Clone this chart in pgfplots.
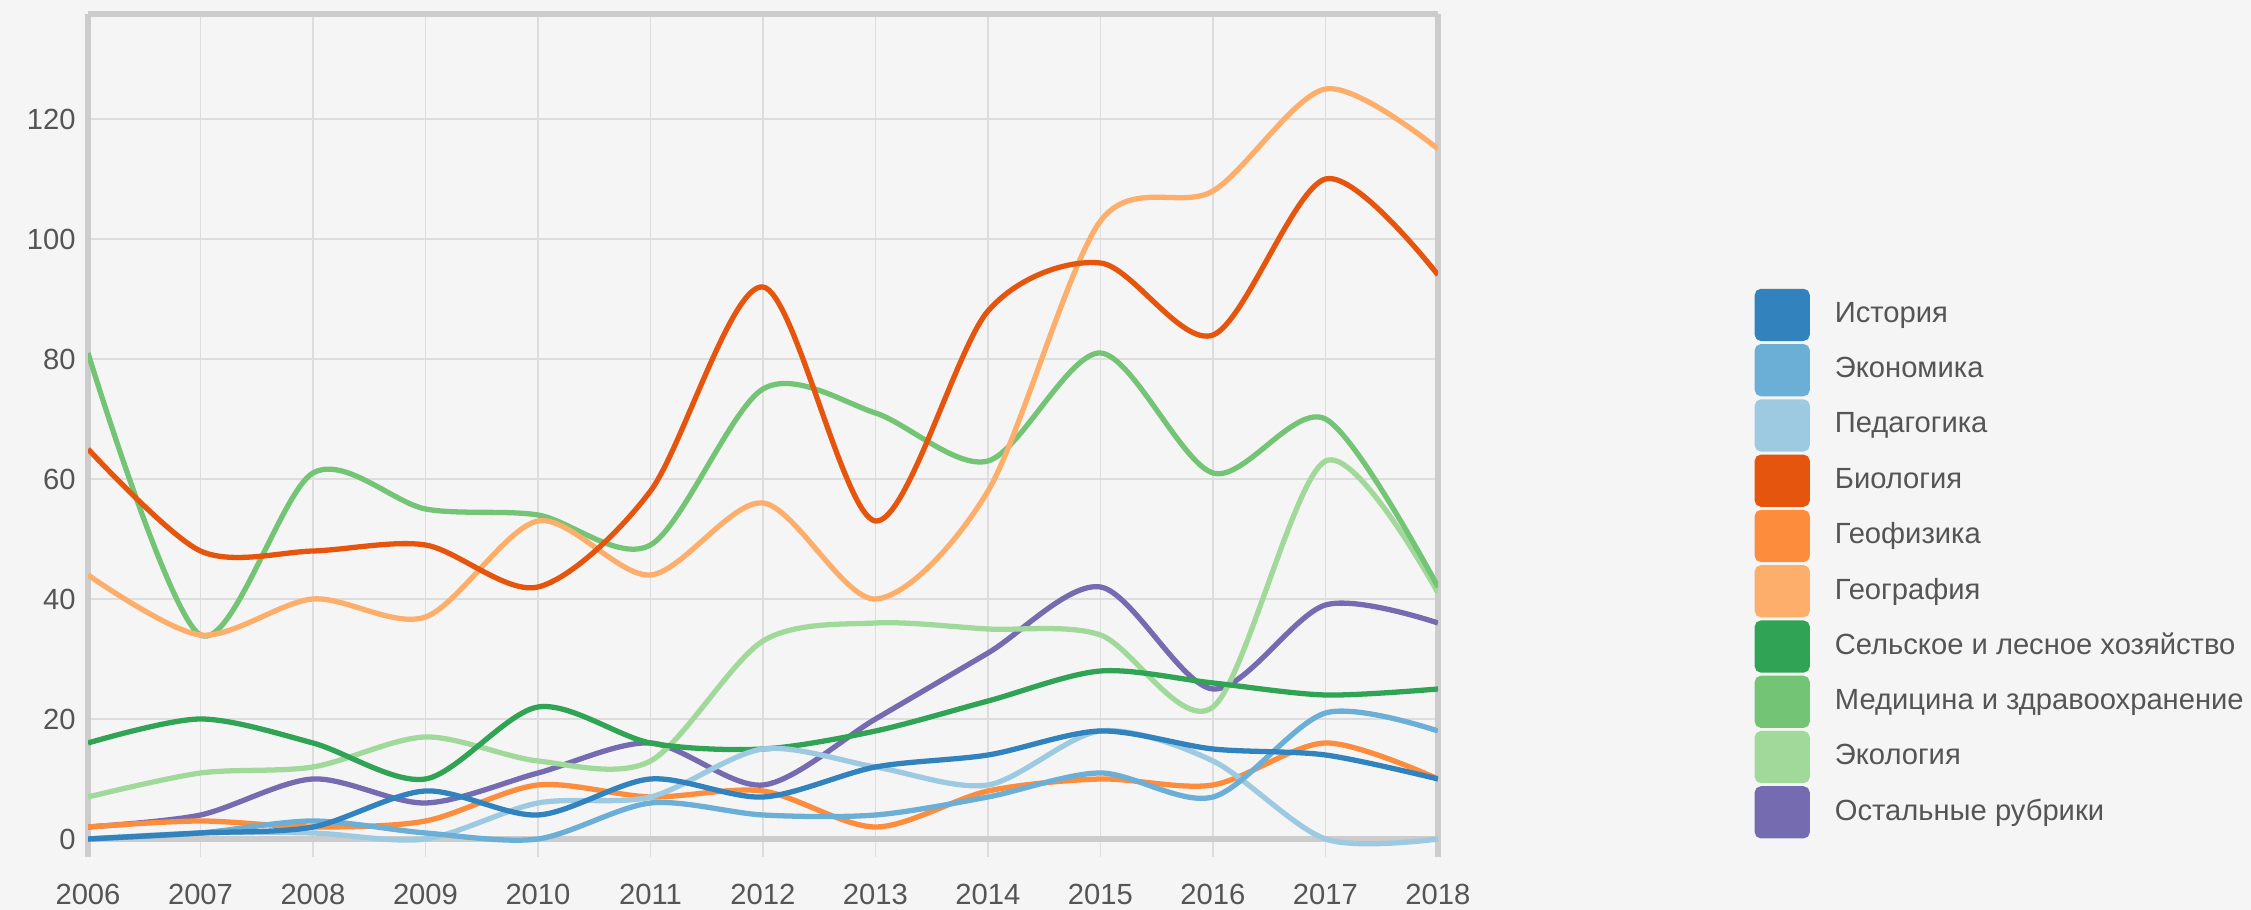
\documentclass[border=0pt]{standalone}
\usepackage{fontspec}
\setmainfont{Liberation Sans}
\usepackage{pgfplots}
\usepackage{pgfplotstable}
\pgfplotsset{compat=1.18}

\definecolor{bg}{HTML}{F5F5F5}
\definecolor{framegray}{HTML}{CCCCCC}
\definecolor{gridgray}{HTML}{DDDDDD}
\definecolor{textgray}{HTML}{555555}
\definecolor{cHist}{HTML}{3182BD}
\definecolor{cEcon}{HTML}{6BAED6}
\definecolor{cPed}{HTML}{9ECAE1}
\definecolor{cBio}{HTML}{E6550D}
\definecolor{cGeoph}{HTML}{FD8D3C}
\definecolor{cGeog}{HTML}{FDAE6B}
\definecolor{cAgri}{HTML}{31A354}
\definecolor{cMed}{HTML}{74C476}
\definecolor{cEco}{HTML}{A1D99B}
\definecolor{cOther}{HTML}{756BB1}

% publications per year and subject
\pgfplotstableread{
year hist econ ped bio geoph geog agri med eco other
2006 0  0  0  65 2  44  16 81 7  2
2007 1  1  1  48 3  34  20 34 11 4
2008 2  3  1  48 2  40  16 61 12 10
2009 8  1  0  49 3  37  10 55 17 6
2010 4  0  6  42 9  53  22 54 13 11
2011 10 6  7  58 7  44  16 49 13 16
2012 7  4  15 92 8  56  15 75 33 9
2013 12 4  12 53 2  40  18 71 36 20
2014 14 7  9  88 8  58  23 63 35 31
2015 18 11 18 96 10 103 28 81 34 42
2016 15 7  13 84 9  108 26 61 22 25
2017 14 21 0  110 16 125 24 70 63 39
2018 10 18 0  94 10 115 25 42 41 36
}\pubs

\begin{document}
\begin{tikzpicture}
\fill[bg] (-8.8mm,-5.3mm) rectangle (216.3mm,85.7mm);
\useasboundingbox (-8.8mm,-5.3mm) rectangle (216.3mm,85.7mm);
\begin{axis}[
  scale only axis,
  width=135mm,
  height=84.3mm,
  xmin=2006, xmax=2018,
  ymin=-3, ymax=137.5,
  xtick={2006,...,2018},
  ytick={20,40,...,120},
  extra y ticks={0,137.5},
  extra y tick labels={0,},
  extra y tick style={major grid style={draw=framegray, line width=1.5pt}},
  grid=major,
  major grid style={draw=gridgray, line width=0.5pt},
  axis x line*=bottom,
  x axis line style={draw=none},
  axis y line*=box,
  y axis line style={draw=framegray, line width=1.5pt},
  major tick length=0pt,
  /pgf/number format/.cd, 1000 sep={}, assume math mode=true, /pgfplots/.cd,
  tick label style={text=textgray, font=\fontsize{8.3}{10}\selectfont},
  xticklabel style={yshift=-1.5mm},
  every axis plot/.append style={line width=1.5pt, smooth, tension=0.5},
  reverse legend,
  legend cell align=left,
  legend image code/.code={\fill[rounded corners=1.2pt] (0mm,-2.35mm) rectangle (5mm,2.35mm);},
  legend style={at={(1.234,0.348)}, anchor=west, draw=none, fill=none, inner sep=0pt,
    row sep=0.3mm, text=textgray, font=\fontsize{8.3}{10}\selectfont,
    nodes={inner sep=0pt, anchor=west},
    /tikz/every odd column/.append style={column sep=2.5mm}},
]
\addplot[color=cOther] table[x=year, y=other] {\pubs};
\addlegendentry{Остальные рубрики}
\addplot[color=cEco] table[x=year, y=eco] {\pubs};
\addlegendentry{Экология}
\addplot[color=cMed] table[x=year, y=med] {\pubs};
\addlegendentry{Медицина и здравоохранение}
\addplot[color=cAgri] table[x=year, y=agri] {\pubs};
\addlegendentry{Сельское и лесное хозяйство}
\addplot[color=cGeog] table[x=year, y=geog] {\pubs};
\addlegendentry{География}
\addplot[color=cGeoph] table[x=year, y=geoph] {\pubs};
\addlegendentry{Геофизика}
\addplot[color=cBio] table[x=year, y=bio] {\pubs};
\addlegendentry{Биология}
\addplot[color=cPed] table[x=year, y=ped] {\pubs};
\addlegendentry{Педагогика}
\addplot[color=cEcon] table[x=year, y=econ] {\pubs};
\addlegendentry{Экономика}
\addplot[color=cHist] table[x=year, y=hist] {\pubs};
\addlegendentry{История}
\end{axis}
\end{tikzpicture}
\end{document}
